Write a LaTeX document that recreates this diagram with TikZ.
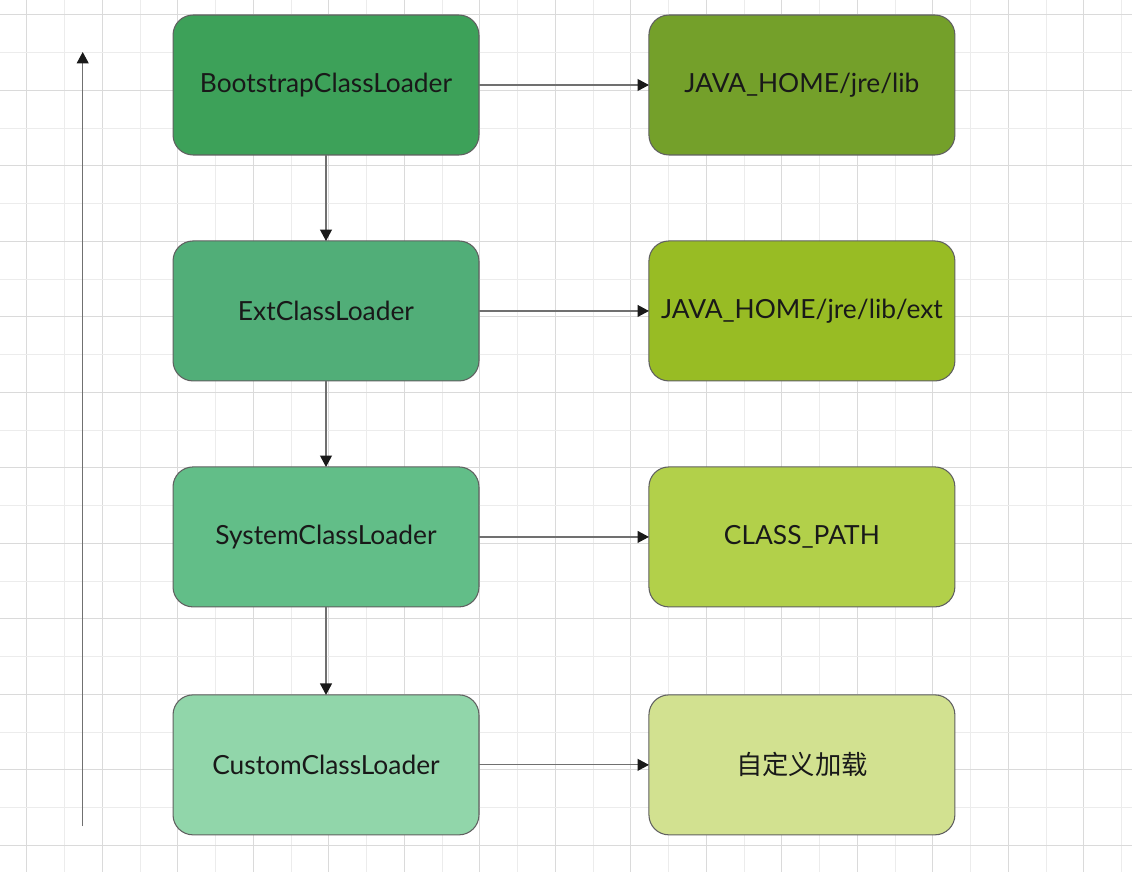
\documentclass[tikz,border=0pt]{standalone}
\usepackage{fontspec}
\setmainfont{Lato}
\newfontfamily\cjk{Noto Sans CJK SC}
\usetikzlibrary{positioning,arrows.meta}
\definecolor{gridminor}{RGB}{236,236,236}
\definecolor{gridmajor}{RGB}{218,218,218}
\definecolor{edgegray}{RGB}{96,96,96}
\definecolor{linegray}{RGB}{112,112,112}
\definecolor{lda}{RGB}{61,161,89}
\definecolor{ldb}{RGB}{81,174,120}
\definecolor{ldc}{RGB}{98,190,136}
\definecolor{ldd}{RGB}{145,214,170}
\definecolor{pta}{RGB}{116,160,42}
\definecolor{ptb}{RGB}{152,188,36}
\definecolor{ptc}{RGB}{178,208,74}
\definecolor{ptd}{RGB}{210,225,144}

\begin{document}
\begin{tikzpicture}[
    x=0.02cm, y=-0.02cm,
    box/.style={draw=edgegray, line width=0.6pt, rounded corners=0.4cm, minimum width=6.12cm, minimum height=2.8cm, align=center, inner sep=0pt, outer sep=0pt, text=black!90, font=\fontsize{15}{18}\selectfont},
    arrow/.style={-{Triangle[length=6.5pt, width=6.8pt, color=black!90]}, draw=linegray, line width=0.7pt},
    node distance=1.72cm and 3.4cm
]
\useasboundingbox (0,0) rectangle (1132,872);
\fill[white] (0,0) rectangle (1132,872);

% ========== BACKGROUND GRID ==========
\foreach \k in {0,...,29} {
    \pgfmathsetmacro{\gx}{26.7+37.75*\k}
    \pgfmathparse{mod(\k,2)==0 ? "gridmajor" : "gridminor"}
    \draw[\pgfmathresult, line width=0.5pt] (\gx,0) -- (\gx,872);
}
\foreach \k in {0,...,22} {
    \pgfmathsetmacro{\gy}{14.7+37.75*\k}
    \pgfmathparse{mod(\k,2)==0 ? "gridmajor" : "gridminor"}
    \draw[\pgfmathresult, line width=0.5pt] (0,\gy) -- (1132,\gy);
}

% ========== LEFT COLUMN: Class Loaders ==========
\node[box, fill=lda] (boot) at (326,85) {BootstrapClassLoader};
\node[box, fill=ldb, below=of boot] (ext) {ExtClassLoader};
\node[box, fill=ldc, below=of ext] (sys) {SystemClassLoader};
\node[box, fill=ldd, below=1.76cm of sys] (custom) {CustomClassLoader};

% ========== RIGHT COLUMN: Load Paths ==========
\node[box, fill=pta, right=of boot] (libpath) {JAVA\_HOME/jre/lib};
\node[box, fill=ptb, right=of ext] (extpath) {JAVA\_HOME/jre/lib/ext};
\node[box, fill=ptc, right=of sys] (cppath) {CLASS\_PATH};
\node[box, fill=ptd, right=of custom] (custompath) {\cjk 自定义加载};

% Arrows down the chain
\draw[arrow] (boot) -- (ext);
\draw[arrow] (ext) -- (sys);
\draw[arrow] (sys) -- (custom);

% Arrows to paths
\draw[arrow] (boot) -- (libpath);
\draw[arrow] (ext) -- (extpath);
\draw[arrow] (sys) -- (cppath);
\draw[arrow] (custom) -- (custompath);

% ========== DELEGATION ARROW ==========
\coordinate (up0) at (82.7,826);
\coordinate (up1) at (82.7,52);
\draw[arrow] (up0) -- (up1);

\end{tikzpicture}
\end{document}
